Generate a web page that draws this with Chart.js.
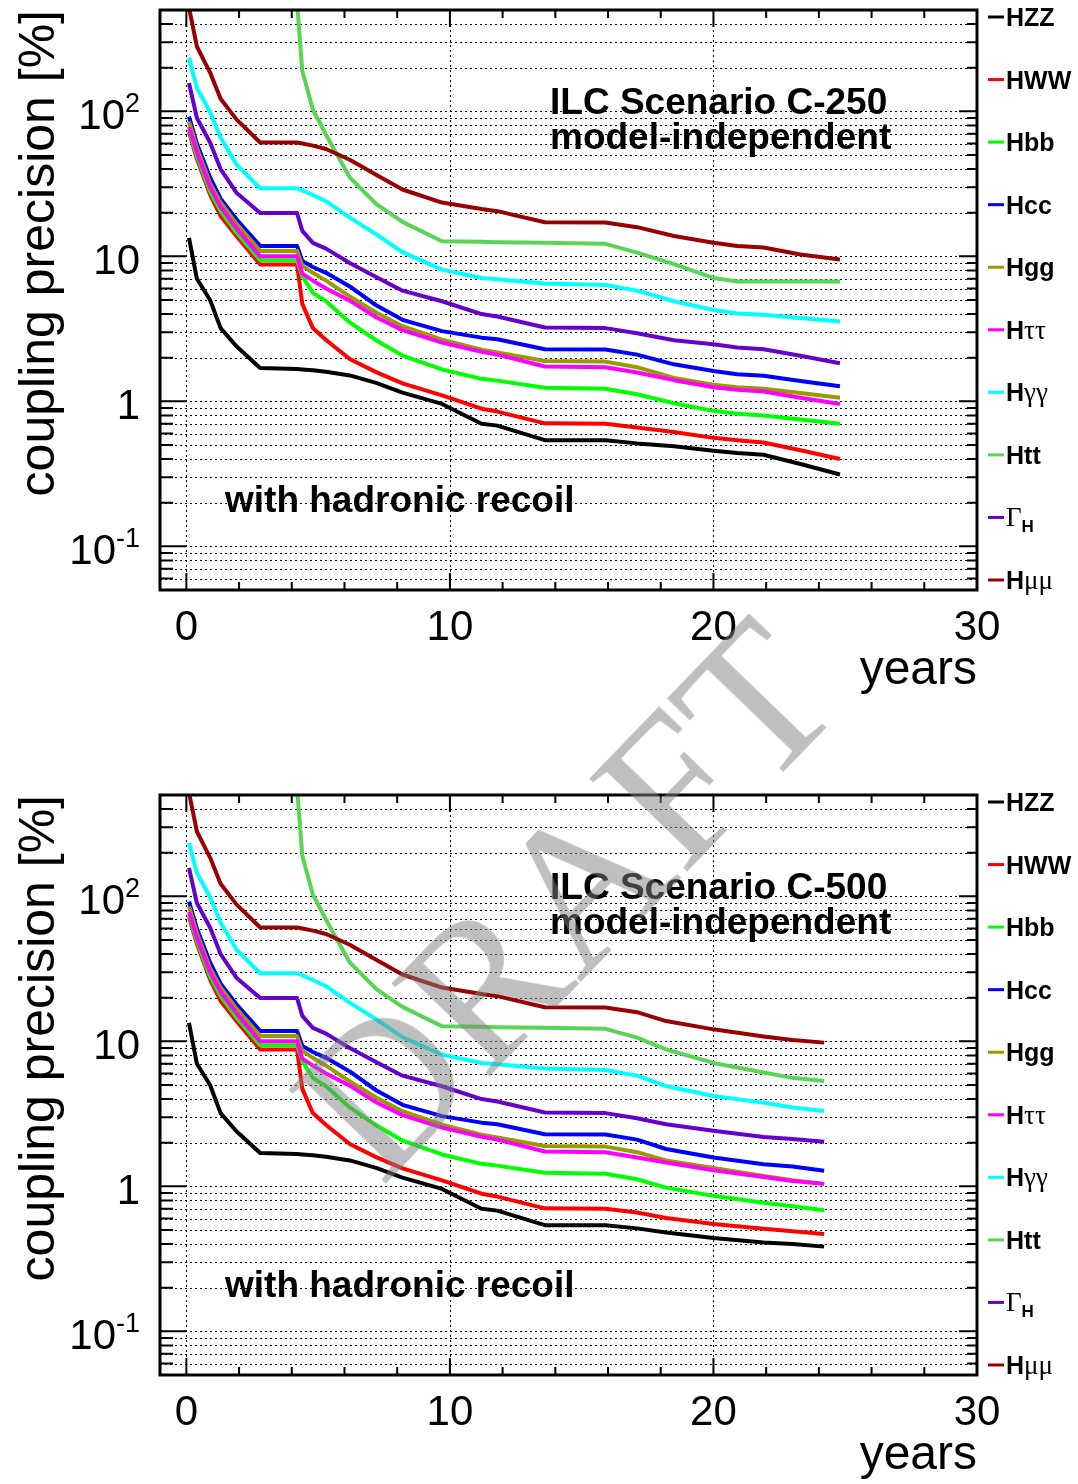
<!DOCTYPE html>
<html>
<head>
<meta charset="utf-8">
<script src="https://cdn.jsdelivr.net/npm/chart.js@4.4.1/dist/chart.umd.min.js"></script>
<style>
  body { margin: 0; background: #fff; }
  #page { position: relative; width: 1078px; height: 1484px; overflow: hidden; }
  canvas { position: absolute; left: 0; }
  #c250 { top: 0; }
  #c500 { top: 742px; }
  #draft {
    position: absolute; left: 565px; top: 898px;
    transform: translate(-50%, -50%) rotate(-46deg);
    font: 205px "Liberation Serif", serif; line-height: 1;
    color: rgba(128, 128, 128, 0.5);
    white-space: nowrap; pointer-events: none;
  }
</style>
</head>
<body>
<div id="page">
  <canvas id="c250" width="1078" height="742"></canvas>
  <canvas id="c500" width="1078" height="742"></canvas>
  <div id="draft">DRAFT</div>
</div>
<script>
// years of running (x values of the points)
var yearsC250 = [0.1, 0.4, 0.9, 1.3, 1.9, 2.8, 4.2, 4.4, 4.8, 5.3, 6.2, 7.2, 8.2, 9.7, 11.2, 11.8, 13.6, 15.9, 17.1, 18.5, 20.0, 20.9, 21.9, 23.3, 24.8];
var yearsC500 = [0.1, 0.4, 0.9, 1.3, 1.9, 2.8, 4.2, 4.4, 4.8, 5.3, 6.2, 7.2, 8.2, 9.7, 11.2, 11.8, 13.6, 15.9, 17.1, 18.2, 20.0, 21.9, 23.0, 24.2];

// coupling precision [%], scenario C-250
var hzz250 = [13.4, 7.0, 5.0, 3.2, 2.4, 1.7, 1.67, 1.66, 1.64, 1.6, 1.51, 1.34, 1.15, 0.96, 0.70, 0.68, 0.54, 0.54, 0.513, 0.49, 0.457, 0.44, 0.428, 0.37, 0.313];
var hww250 = [72, 47, 26.7, 19, 13.8, 8.8, 8.8, 4.7, 3.2, 2.65, 1.96, 1.59, 1.33, 1.1, 0.89, 0.85, 0.705, 0.70, 0.66, 0.615, 0.56, 0.54, 0.52, 0.46, 0.40];
var hbb250 = [75, 49, 28, 20.5, 14.6, 9.4, 9.4, 7.3, 5.6, 4.9, 3.5, 2.64, 2.07, 1.66, 1.43, 1.39, 1.24, 1.22, 1.12, 0.97, 0.86, 0.82, 0.8, 0.75, 0.70];
var hcc250 = [92, 60, 35, 25, 18, 11.8, 11.8, 9.3, 8.45, 7.7, 6.2, 4.6, 3.65, 3.05, 2.75, 2.68, 2.29, 2.28, 2.1, 1.8, 1.62, 1.54, 1.5, 1.38, 1.27];
var hgg250 = [85, 56, 32, 23.5, 16.8, 10.9, 10.9, 8.6, 7.7, 6.8, 5.3, 4.1, 3.3, 2.66, 2.27, 2.17, 1.9, 1.88, 1.72, 1.45, 1.3, 1.25, 1.22, 1.14, 1.06];
var htautau250 = [78, 52, 30, 22, 15.6, 10.0, 10.0, 7.6, 6.8, 6.0, 4.95, 3.8, 3.1, 2.54, 2.2, 2.1, 1.74, 1.72, 1.58, 1.4, 1.25, 1.2, 1.17, 1.06, 0.96];
var hgamgam250 = [233, 145, 99, 66, 43, 29.5, 29.5, 28.5, 26.5, 24, 18.5, 14.2, 10.7, 8.1, 7.1, 6.95, 6.5, 6.35, 5.8, 4.9, 4.27, 4.03, 3.96, 3.75, 3.55];
var htt250 = [null, null, null, null, null, null, 560, 190, 103, 69, 35, 23, 17.3, 12.7, 12.6, 12.5, 12.4, 12.2, 10.6, 8.85, 7.1, 6.7, 6.7, 6.7, 6.7];
var gammaH250 = [157, 90, 61, 40, 27.5, 19.9, 19.9, 15, 12.4, 11.3, 9.0, 7.2, 5.8, 4.9, 4.0, 3.85, 3.23, 3.2, 2.95, 2.64, 2.48, 2.35, 2.29, 2.06, 1.83];
var hmumu250 = [520, 280, 185, 122, 88, 61, 61, 60, 58, 55, 46.4, 36.6, 28.9, 23.5, 21.2, 20.5, 17.2, 17.1, 15.9, 13.8, 12.4, 11.8, 11.5, 10.3, 9.5];

// coupling precision [%], scenario C-500
var hzz500 = [13.4, 7.0, 5.0, 3.2, 2.4, 1.7, 1.67, 1.66, 1.64, 1.6, 1.51, 1.34, 1.15, 0.96, 0.70, 0.68, 0.54, 0.54, 0.513, 0.48, 0.44, 0.41, 0.40, 0.384];
var hww500 = [72, 47, 26.7, 19, 13.8, 8.8, 8.8, 4.7, 3.2, 2.65, 1.96, 1.59, 1.33, 1.1, 0.89, 0.85, 0.705, 0.70, 0.66, 0.605, 0.55, 0.51, 0.49, 0.47];
var hbb500 = [75, 49, 28, 20.5, 14.6, 9.4, 9.4, 7.3, 5.6, 4.9, 3.5, 2.64, 2.07, 1.66, 1.43, 1.39, 1.24, 1.22, 1.12, 0.98, 0.86, 0.77, 0.73, 0.685];
var hcc500 = [92, 60, 35, 25, 18, 11.8, 11.8, 9.3, 8.45, 7.7, 6.2, 4.6, 3.65, 3.05, 2.75, 2.68, 2.29, 2.28, 2.1, 1.81, 1.58, 1.42, 1.37, 1.28];
var hgg500 = [85, 56, 32, 23.5, 16.8, 10.9, 10.9, 8.6, 7.7, 6.8, 5.3, 4.1, 3.3, 2.66, 2.27, 2.17, 1.9, 1.88, 1.72, 1.51, 1.34, 1.18, 1.10, 1.04];
var htautau500 = [78, 52, 30, 22, 15.6, 10.0, 10.0, 7.6, 6.8, 6.0, 4.95, 3.8, 3.1, 2.54, 2.2, 2.1, 1.74, 1.72, 1.58, 1.46, 1.29, 1.16, 1.09, 1.04];
var hgamgam500 = [233, 145, 99, 66, 43, 29.5, 29.5, 28.5, 26.5, 24, 18.5, 14.2, 10.7, 8.1, 7.1, 6.95, 6.5, 6.35, 5.8, 4.92, 4.2, 3.78, 3.5, 3.31];
var htt500 = [null, null, null, null, null, null, 560, 190, 103, 69, 35, 23, 17.3, 12.7, 12.6, 12.5, 12.4, 12.2, 10.6, 8.8, 7.1, 6.1, 5.6, 5.33];
var gammaH500 = [157, 90, 61, 40, 27.5, 19.9, 19.9, 15, 12.4, 11.3, 9.0, 7.2, 5.8, 4.9, 4.0, 3.85, 3.23, 3.2, 2.95, 2.68, 2.42, 2.19, 2.12, 2.03];
var hmumu500 = [520, 280, 185, 122, 88, 61, 61, 60, 58, 55, 46.4, 36.6, 28.9, 23.5, 21.2, 20.5, 17.2, 17.1, 15.9, 13.8, 12.1, 10.8, 10.2, 9.8];

var seriesNames = ['HZZ', 'HWW', 'Hbb', 'Hcc', 'Hgg', 'H\u03c4\u03c4', 'H\u03b3\u03b3', 'Htt', '\u0393H', 'H\u03bc\u03bc'];
var seriesColors = ['#000000', '#ff0000', '#00ff00', '#0000ff', '#999900', '#ff00ff', '#00ffff', '#59d454', '#6600cc', '#990000'];

// axes
var xTickValues = [0, 2, 4, 6, 8, 10, 12, 14, 16, 18, 20, 22, 24, 26, 28, 30];
var xLabelValues = [0, 10, 20, 30];
var xGridValues = [0, 10, 20];
var yGridValues = [0.05, 0.06, 0.07, 0.08, 0.09, 0.1, 0.2, 0.3, 0.4, 0.5, 0.6, 0.7, 0.8, 0.9,
  1, 2, 3, 4, 5, 6, 7, 8, 9, 10, 20, 30, 40, 50, 60, 70, 80, 90, 100, 200, 300, 400, 500];
var yLabelValues = [0.1, 1, 10, 100];
var yLabelTexts = [['10', '-1'], ['1', ''], ['10', ''], ['10', '2']];

var sansFont = '"Liberation Sans", Arial, sans-serif';
var serifFont = '"Liberation Serif", "Times New Roman", serif';

function points(years, values) {
    var pts = [];
    years.forEach(function (x, i) {
        if (values[i] !== null) pts.push({x: x, y: values[i]});
    });
    return pts;
}

function line(ctx, x1, y1, x2, y2) {
    ctx.moveTo(x1, y1);
    ctx.lineTo(x2, y2);
}

function drawLegendLabel(ctx, label, x, y) {
    var runs;
    if (label === '\u0393H') {
        runs = [['\u0393', '27px ' + serifFont, 0], ['H', 'bold 17px ' + sansFont, 6]];
    } else if (/^[A-Za-z]+$/.test(label)) {
        runs = [[label, 'bold 25px ' + sansFont, 0]];
    } else {
        runs = [['H', 'bold 25px ' + sansFont, 0], [label.slice(1), '27px ' + serifFont, 0]];
    }
    runs.forEach(function (r) {
        ctx.font = r[1];
        ctx.fillText(r[0], x, y + r[2]);
        x += ctx.measureText(r[0]).width;
    });
}

var rootAxes = {
    id: 'rootAxes',
    beforeDatasetsDraw: function (chart) {
        var ctx = chart.ctx, area = chart.chartArea;
        var xs = chart.scales.x, ys = chart.scales.y;
        ctx.save();
        ctx.strokeStyle = '#000';
        ctx.lineWidth = 1;
        ctx.setLineDash([2, 3]);
        ctx.beginPath();
        yGridValues.forEach(function (v) {
            var y = Math.round(ys.getPixelForValue(v)) + 0.5;
            line(ctx, area.left, y, area.right, y);
        });
        xGridValues.forEach(function (v) {
            var x = Math.round(xs.getPixelForValue(v)) + 0.5;
            line(ctx, x, area.top, x, area.bottom);
        });
        ctx.stroke();
        ctx.restore();
    },
    afterDatasetsDraw: function (chart, args, opts) {
        var ctx = chart.ctx, area = chart.chartArea;
        var xs = chart.scales.x, ys = chart.scales.y;
        ctx.save();
        ctx.strokeStyle = '#000';
        ctx.fillStyle = '#000';

        // ticks
        ctx.lineWidth = 2;
        ctx.beginPath();
        yGridValues.forEach(function (v) {
            var y = ys.getPixelForValue(v);
            var major = yLabelValues.indexOf(v) >= 0;
            line(ctx, area.left, y, area.left + (major ? 26 : 13), y);
            line(ctx, area.right, y, area.right - (major ? 18 : 10), y);
        });
        xTickValues.forEach(function (v) {
            var x = xs.getPixelForValue(v);
            var major = xLabelValues.indexOf(v) >= 0;
            line(ctx, x, area.top, x, area.top + (major ? 17 : 8));
            line(ctx, x, area.bottom, x, area.bottom - (major ? 17 : 8));
        });
        ctx.stroke();

        // frame
        ctx.lineWidth = 3;
        ctx.strokeRect(area.left, area.top, area.right - area.left, area.bottom - area.top);

        // x tick labels and title
        ctx.font = '42px ' + sansFont;
        ctx.textAlign = 'center';
        ctx.textBaseline = 'alphabetic';
        xLabelValues.forEach(function (v) {
            ctx.fillText(String(v), xs.getPixelForValue(v), area.bottom + 50);
        });
        ctx.font = '48px ' + sansFont;
        ctx.textAlign = 'right';
        ctx.fillText('years', area.right, area.bottom + 94);

        // y tick labels with exponents
        yLabelValues.forEach(function (v, i) {
            var y = ys.getPixelForValue(v) + 18;
            var base = yLabelTexts[i][0], exp = yLabelTexts[i][1];
            ctx.font = '27px ' + sansFont;
            var ew = exp ? ctx.measureText(exp).width : 0;
            ctx.textAlign = 'left';
            if (exp) ctx.fillText(exp, 140 - ew, y - 17);
            ctx.font = '42px ' + sansFont;
            ctx.textAlign = 'right';
            ctx.fillText(base, 140 - ew, y);
        });

        // y title
        ctx.save();
        ctx.translate(54, area.top);
        ctx.rotate(-Math.PI / 2);
        ctx.font = '50px ' + sansFont;
        ctx.textAlign = 'right';
        ctx.fillText('coupling precision [%]', 0, 0);
        ctx.restore();

        // annotations
        ctx.font = 'bold 37px ' + sansFont;
        ctx.textAlign = 'left';
        ctx.fillText(opts.title, 550, area.top + 104);
        ctx.fillText('model-independent', 550, area.top + 139);
        ctx.fillText('with hadronic recoil', 225, area.top + 502);

        // legend on the right
        var step = (area.bottom - 10 - (area.top + 7)) / (seriesNames.length - 1);
        seriesNames.forEach(function (name, i) {
            var y = area.top + 7 + i * step;
            ctx.strokeStyle = seriesColors[i];
            ctx.lineWidth = 3;
            ctx.beginPath();
            line(ctx, 988, y, 1004, y);
            ctx.stroke();
            ctx.fillStyle = '#000';
            ctx.textAlign = 'left';
            drawLegendLabel(ctx, name, 1006, y + 9);
        });
        ctx.restore();
    }
};

function makeChart(canvasId, years, values, title, padding) {
    var datasets = values.map(function (vals, i) {
        return {
            label: seriesNames[i],
            data: points(years, vals),
            borderColor: seriesColors[i],
            borderWidth: 4,
            pointRadius: 0,
            tension: 0,
            fill: false,
            borderJoinStyle: 'round',
            order: values.length - i
        };
    });
    return new Chart(document.getElementById(canvasId).getContext('2d'), {
        type: 'line',
        data: {datasets: datasets},
        options: {
            responsive: false,
            animation: false,
            events: [],
            layout: {padding: padding},
            scales: {
                x: {type: 'linear', min: -1, max: 30, display: false},
                y: {type: 'logarithmic', min: 0.05, max: 500, display: false}
            },
            plugins: {
                legend: {display: false},
                tooltip: {enabled: false},
                rootAxes: {title: title}
            }
        },
        plugins: [rootAxes]
    });
}

document.addEventListener('DOMContentLoaded', function () {
    makeChart('c250', yearsC250,
        [hzz250, hww250, hbb250, hcc250, hgg250, htautau250, hgamgam250, htt250, gammaH250, hmumu250],
        'ILC Scenario C-250', {left: 160, top: 10, right: 101, bottom: 152});
    makeChart('c500', yearsC500,
        [hzz500, hww500, hbb500, hcc500, hgg500, htautau500, hgamgam500, htt500, gammaH500, hmumu500],
        'ILC Scenario C-500', {left: 160, top: 53, right: 101, bottom: 109});
});
</script>
</body>
</html>
